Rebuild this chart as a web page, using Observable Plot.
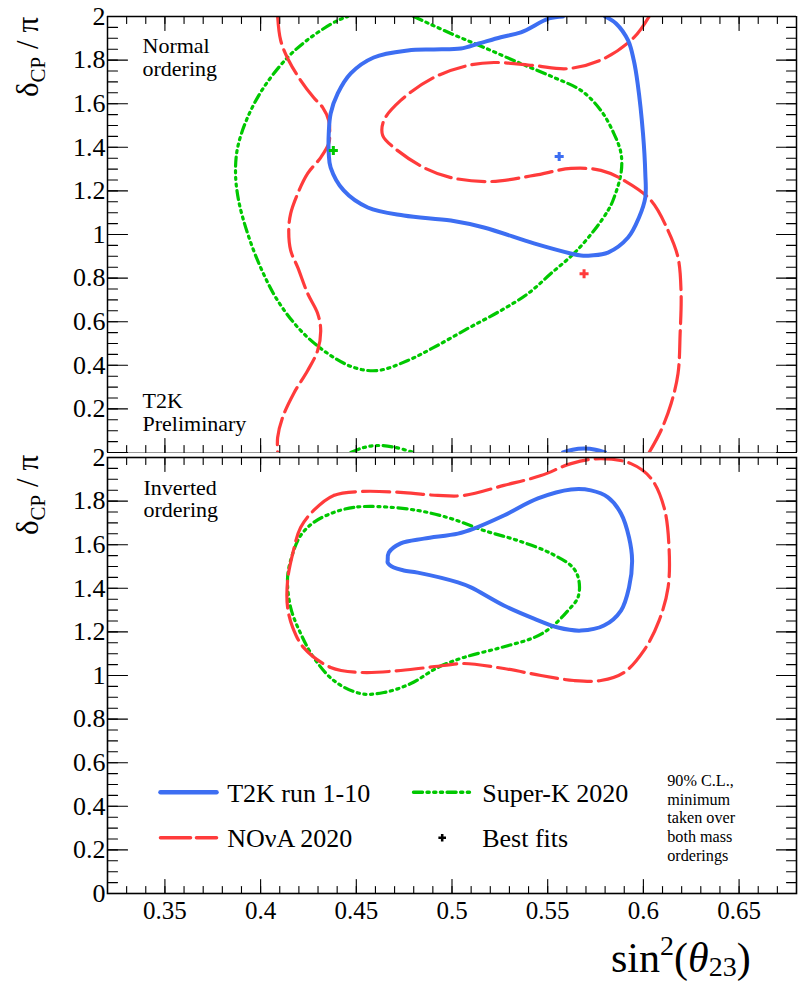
<!DOCTYPE html>
<html><head><meta charset="utf-8">
<script src="https://cdn.jsdelivr.net/npm/d3@7"></script>
<script src="https://cdn.jsdelivr.net/npm/@observablehq/plot@0.6"></script>
<style>
body{margin:0;background:#fff;}
#wrap{position:relative;width:798px;height:984px;overflow:hidden;}
#wrap svg{position:absolute;left:0;top:0;}
#wrap svg text, #wrap svg tspan{font-family:"Liberation Serif", serif !important;}
</style></head><body><div id="wrap"></div>
<script>
// ---------- DATA (sin^2 theta23, deltaCP/pi) ----------
// Normal ordering panel
const t2kNO = [[0.580,2.0],[0.5857,1.968],[0.592,1.89],[0.595,1.798],[0.597,1.693],[0.5998,1.463],[0.601,1.28],[0.601,1.17],[0.5977,1.078],[0.592,0.986],[0.5815,0.917],[0.5726,0.904],[0.5674,0.904],[0.562,0.913],[0.5428,0.959],[0.5167,1.032],[0.4994,1.064],[0.4748,1.087],[0.456,1.124],[0.4434,1.202],[0.4366,1.307],[0.4356,1.372],[0.4356,1.463],[0.4366,1.555],[0.4403,1.647],[0.4471,1.739],[0.4591,1.812],[0.4769,1.844],[0.4905,1.849],[0.5046,1.853],[0.514,1.876],[0.5255,1.905],[0.536,1.927],[0.5507,1.991],[0.558,2.0]];
const t2kNOcap = [[0.558,0],[0.563,0.013],[0.569,0.018],[0.575,0.013],[0.580,0]];
const novaNOleft = [[0.4089,2.0],[0.4105,1.89],[0.4147,1.798],[0.421,1.706],[0.4277,1.628],[0.4324,1.583],[0.4356,1.523],[0.4361,1.463],[0.4356,1.417],[0.4314,1.353],[0.4246,1.28],[0.4194,1.188],[0.4157,1.096],[0.4147,1.018],[0.4157,0.927],[0.4194,0.849],[0.4246,0.729],[0.4298,0.638],[0.4314,0.56],[0.4298,0.468],[0.4246,0.376],[0.4173,0.271],[0.4115,0.161],[0.4089,0.069],[0.4089,0.0]];
const novaNOright = [[0.603,2.0],[0.5951,1.904],[0.5794,1.807],[0.5606,1.761],[0.5428,1.775],[0.5219,1.789],[0.5083,1.775],[0.4905,1.72],[0.4732,1.615],[0.4644,1.523],[0.4638,1.454],[0.4696,1.399],[0.4853,1.307],[0.4994,1.261],[0.5203,1.243],[0.5428,1.271],[0.5622,1.303],[0.5778,1.294],[0.5909,1.243],[0.604,1.156],[0.6129,1.018],[0.6181,0.894],[0.6197,0.729],[0.6192,0.546],[0.6181,0.362],[0.6145,0.225],[0.6092,0.101],[0.603,0.0]];
const skNO = [[0.48,2.0],[0.4994,1.922],[0.5167,1.858],[0.536,1.784],[0.5533,1.72],[0.5674,1.661],[0.5778,1.569],[0.5846,1.463],[0.5883,1.372],[0.5883,1.28],[0.5841,1.156],[0.5815,1.11],[0.5742,1.018],[0.5637,0.913],[0.5517,0.821],[0.5397,0.729],[0.5255,0.651],[0.5083,0.569],[0.4905,0.482],[0.4769,0.422],[0.4612,0.376],[0.4487,0.39],[0.4351,0.454],[0.4209,0.56],[0.4089,0.697],[0.40,0.849],[0.3932,1.005],[0.3885,1.156],[0.3869,1.28],[0.388,1.399],[0.3932,1.537],[0.4016,1.674],[0.4141,1.812],[0.4262,1.904],[0.4403,1.982],[0.4455,2.0]];
const skNOcap = [[0.4471,0],[0.4539,0.023],[0.4612,0.032],[0.4706,0.023],[0.48,0]];
const bestFitsNO = [
  {exp: "T2K", x: 0.556, y: 1.358},
  {exp: "NOvA", x: 0.569, y: 0.82},
  {exp: "SK", x: 0.438, y: 1.385}
];
// Inverted ordering panel (closed contours)
const t2kIO = [[0.4664,1.528],[0.467,1.564],[0.4732,1.606],[0.4853,1.628],[0.5031,1.651],[0.5114,1.674],[0.5271,1.734],[0.5449,1.812],[0.5622,1.853],[0.5726,1.849],[0.5815,1.817],[0.5883,1.743],[0.5925,1.633],[0.5941,1.528],[0.5925,1.404],[0.5883,1.298],[0.5794,1.229],[0.5674,1.206],[0.5554,1.22],[0.5428,1.261],[0.5271,1.321],[0.5099,1.404],[0.5031,1.427],[0.4821,1.472],[0.4748,1.482],[0.4696,1.495],[0.4664,1.518]];
const novaIO = [[0.4523,1.844],[0.4382,1.826],[0.4277,1.757],[0.4209,1.679],[0.4168,1.56],[0.4141,1.436],[0.4141,1.312],[0.4168,1.22],[0.4225,1.128],[0.4366,1.037],[0.4523,1.014],[0.4732,1.023],[0.4957,1.046],[0.5062,1.055],[0.5271,1.032],[0.5465,1.0],[0.5637,0.977],[0.5778,0.977],[0.5899,1.014],[0.6003,1.115],[0.6082,1.252],[0.6129,1.404],[0.6134,1.587],[0.6108,1.771],[0.604,1.904],[0.5935,1.972],[0.5778,1.995],[0.5622,1.972],[0.5465,1.917],[0.5271,1.872],[0.5062,1.826],[0.4926,1.826],[0.4748,1.839]];
const skIO = [[0.4612,1.775],[0.4487,1.771],[0.4382,1.748],[0.4277,1.702],[0.4209,1.642],[0.4168,1.56],[0.4141,1.45],[0.4157,1.312],[0.4209,1.193],[0.4277,1.083],[0.4382,0.977],[0.4523,0.917],[0.4644,0.922],[0.4785,0.963],[0.4926,1.037],[0.5062,1.083],[0.5255,1.128],[0.5428,1.174],[0.5517,1.22],[0.5606,1.298],[0.5658,1.358],[0.5663,1.436],[0.5632,1.495],[0.5517,1.56],[0.5344,1.619],[0.5167,1.665],[0.4994,1.72],[0.4821,1.757]];
// Axes
const xDomain = [0.32, 0.68];
const xTickLabels = [0.35, 0.4, 0.45, 0.5, 0.55, 0.6, 0.65];
const yTickLabelsIO = [0, 0.2, 0.4, 0.6, 0.8, 1, 1.2, 1.4, 1.6, 1.8, 2];
const yTickLabelsNO = [0.2, 0.4, 0.6, 0.8, 1, 1.2, 1.4, 1.6, 1.8, 2];
const xMinor = d3.range(33, 68).map(v => v / 100);
const yMinor = d3.range(0, 41).map(v => v / 20);
const legendItems = ["T2K run 1-10", "NOνA 2020", "Super-K 2020", "Best fits"];
const noteText = "90% C.L.,\nminimum\ntaken over\nboth mass\norderings";

// ---------- STYLE ----------
const SERIF = "Liberation Serif";
const BLUE = "#3d6ef2", RED = "#ff3b3b", GREEN = "#00c800";
const DASH_RED = "27,7";
const DASH_GREEN = "9,4.5,2.2,4.5,2.2,4.5,2.2,4.5";
const lineShape = {draw(ctx, l) { ctx.moveTo(0, 0); ctx.lineTo(0, -l); }};
const fmt = d3.format("~g");
const XY = {x: d => d[0], y: d => d[1], clip: true};

function tickMarks() {
  const base = {anchor: "start", shape: lineShape, stroke: "black", strokeWidth: 1.1};
  return [
    Plot.vector(xMinor, {...base, x: d => d, frameAnchor: "bottom", rotate: 0, length: 7}),
    Plot.vector(xTickLabels, {...base, x: d => d, frameAnchor: "bottom", rotate: 0, length: 14}),
    Plot.vector(xMinor, {...base, x: d => d, frameAnchor: "top", rotate: 180, length: 7}),
    Plot.vector(xTickLabels, {...base, x: d => d, frameAnchor: "top", rotate: 180, length: 14}),
    Plot.vector(yMinor, {...base, y: d => d, frameAnchor: "left", rotate: 90, length: 10}),
    Plot.vector(yTickLabelsIO, {...base, y: d => d, frameAnchor: "left", rotate: 90, length: 20}),
    Plot.vector(yMinor, {...base, y: d => d, frameAnchor: "right", rotate: -90, length: 10}),
    Plot.vector(yTickLabelsIO, {...base, y: d => d, frameAnchor: "right", rotate: -90, length: 20})
  ];
}
function yAxisLabels(ticks) {
  return Plot.axisY(ticks, {anchor: "left", tickSize: 0, tickPadding: 2, fontSize: 26, fontFamily: SERIF, tickFormat: fmt, label: null});
}
function panelText(str, dx, dy, size, lh) {
  return Plot.text([str], {text: d => d, frameAnchor: "top-left", dx, dy, textAnchor: "start", lineAnchor: "bottom", lineHeight: lh, fontSize: size, fontFamily: SERIF, fill: "black"});
}
const fitColor = d => d.exp === "T2K" ? BLUE : d.exp === "NOvA" ? RED : GREEN;

// ---------- TOP PANEL: Normal ordering ----------
const topPlot = Plot.plot({
  width: 798, height: 456, marginLeft: 107, marginRight: 2, marginTop: 16, marginBottom: 4,
  x: {domain: xDomain, axis: null}, y: {domain: [0, 2], axis: null},
  style: {fontFamily: SERIF, background: "transparent", overflow: "visible"},
  marks: [
    Plot.line(skNO, {...XY, stroke: GREEN, strokeWidth: 3.2, strokeDasharray: DASH_GREEN, curve: "catmull-rom"}),
    Plot.line(skNOcap, {...XY, stroke: GREEN, strokeWidth: 3.2, strokeDasharray: DASH_GREEN, curve: "catmull-rom"}),
    Plot.line(novaNOleft, {...XY, stroke: RED, strokeWidth: 3.2, strokeDasharray: DASH_RED, curve: "catmull-rom"}),
    Plot.line(novaNOright, {...XY, stroke: RED, strokeWidth: 3.2, strokeDasharray: DASH_RED, curve: "catmull-rom"}),
    Plot.line(t2kNO, {...XY, stroke: BLUE, strokeWidth: 4, curve: "catmull-rom"}),
    Plot.line(t2kNOcap, {...XY, stroke: BLUE, strokeWidth: 4, curve: "catmull-rom"}),
    Plot.dot(bestFitsNO, {x: "x", y: "y", symbol: "cross", r: 3.8, fill: fitColor, stroke: null}),
    Plot.ruleY([0], {stroke: "#999", strokeWidth: 1}),
    Plot.ruleY([2], {stroke: "black", strokeWidth: 1.5}),
    Plot.ruleX(xDomain, {stroke: "black", strokeWidth: 1.5}),
    ...tickMarks(),
    yAxisLabels(yTickLabelsNO),
    panelText("Normal\nordering", 35, 59.5, 22, 1.03),
    panelText("T2K\nPreliminary", 35, 414, 22, 1.03)
  ]
});

// ---------- BOTTOM PANEL: Inverted ordering ----------
const legX = 160 - 107, legTop = 457;
const botPlot = Plot.plot({
  width: 798, height: 984, marginLeft: 107, marginRight: 2, marginTop: 457, marginBottom: 91,
  x: {domain: xDomain, axis: null}, y: {domain: [0, 2], axis: null},
  style: {fontFamily: SERIF, background: "transparent", overflow: "visible"},
  marks: [
    Plot.line(skIO, {...XY, stroke: GREEN, strokeWidth: 3.2, strokeDasharray: DASH_GREEN, curve: "catmull-rom-closed"}),
    Plot.line(novaIO, {...XY, stroke: RED, strokeWidth: 3.2, strokeDasharray: DASH_RED, curve: "catmull-rom-closed"}),
    Plot.line(t2kIO, {...XY, stroke: BLUE, strokeWidth: 4, curve: "catmull-rom-closed"}),
    Plot.frame({stroke: "black", strokeWidth: 1.6}),
    ...tickMarks(),
    yAxisLabels(yTickLabelsIO),
    Plot.axisX(xTickLabels, {anchor: "bottom", tickSize: 0, tickPadding: 8, fontSize: 25, fontFamily: SERIF, tickFormat: fmt, label: null}),
    panelText("Inverted\nordering", 36, 59.7, 22, 1.03),
    // legend
    Plot.vector([0], {frameAnchor: "top-left", dx: legX, dy: 791.7 - legTop, rotate: 90, length: 56, anchor: "start", shape: lineShape, stroke: BLUE, strokeWidth: 4.5}),
    Plot.vector([0], {frameAnchor: "top-left", dx: legX, dy: 837.3 - legTop, rotate: 90, length: 56, anchor: "start", shape: lineShape, stroke: RED, strokeWidth: 3.6, strokeDasharray: "30,6"}),
    Plot.vector([0], {frameAnchor: "top-left", dx: 413 - 107, dy: 791.7 - legTop, rotate: 90, length: 56, anchor: "start", shape: lineShape, stroke: GREEN, strokeWidth: 3.4, strokeDasharray: DASH_GREEN}),
    Plot.dot([0], {frameAnchor: "top-left", dx: 441.7 - 107, dy: 837.3 - legTop, symbol: "cross", r: 3.2, fill: "black", stroke: null}),
    panelText(legendItems[0], 226.7 - 107, 801.7 - legTop, 26, 1),
    panelText(legendItems[1], 226.7 - 107, 846.7 - legTop, 26, 1),
    panelText(legendItems[2], 481.7 - 107, 801.7 - legTop, 26, 1),
    panelText(legendItems[3], 481.7 - 107, 846.7 - legTop, 26, 1),
    panelText(noteText, 666.7 - 107, 860.2 - legTop, 16.2, 1.15)
  ]
});

const wrap = document.getElementById("wrap");
wrap.appendChild(topPlot);
wrap.appendChild(botPlot);

// axis titles
function yTitle(svg, cy) {
  const t = d3.select(svg).append("text")
    .attr("transform", `translate(38,${cy}) rotate(-90)`)
    .attr("text-anchor", "middle").attr("font-family", SERIF).attr("font-size", 31).attr("fill", "black");
  t.append("tspan").text("δ");
  t.append("tspan").attr("font-size", 21).attr("dy", 7).text("CP");
  t.append("tspan").attr("dy", -7).text(" / π");
}
yTitle(topPlot, 57);
yTitle(botPlot, 495);
{
  const t = d3.select(botPlot).append("text")
    .attr("x", 611).attr("y", 972).attr("text-anchor", "start")
    .attr("font-family", SERIF).attr("font-size", 42).attr("fill", "black");
  t.append("tspan").text("sin");
  t.append("tspan").attr("font-size", 28).attr("dy", -17).text("2");
  t.append("tspan").attr("dy", 17).text("(");
  t.append("tspan").attr("font-style", "italic").text("θ");
  t.append("tspan").attr("font-size", 28).attr("dy", 4).text("23");
  t.append("tspan").attr("dy", -4).text(")");
}
</script></body></html>
